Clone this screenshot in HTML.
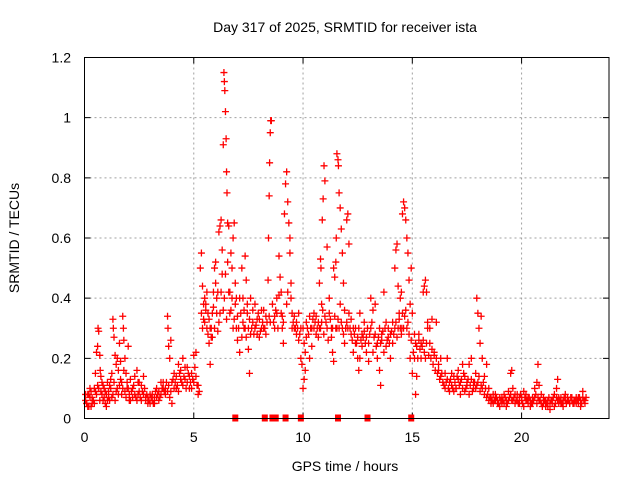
<!DOCTYPE html>
<html><head><meta charset="utf-8"><style>
html,body{margin:0;padding:0;background:#fff}
svg{display:block;font-family:"Liberation Sans",sans-serif}
</style></head><body>
<svg id="chart" width="640" height="480" viewBox="0 0 640 480" xmlns="http://www.w3.org/2000/svg">
<rect width="640" height="480" fill="#fff"/>
<g id="grid"></g>
<g id="axes"></g>
<g id="marks"></g>
<rect x="84.5" y="57.5" width="524.5" height="361" fill="none" stroke="#000" stroke-width="1"/>
<text x="345" y="32" font-size="14" text-anchor="middle">Day 317 of 2025, SRMTID for receiver ista</text>
<text x="345" y="471" font-size="14" text-anchor="middle">GPS time / hours</text>
<text transform="translate(19,238) rotate(-90)" font-size="14" text-anchor="middle">SRMTID / TECUs</text>
</svg>
<script>
const xTicks=[0,5,10,15,20];
const yTicks=[0,0.2,0.4,0.6,0.8,1,1.2];
const yTickLabels=["0","0.2","0.4","0.6","0.8","1","1.2"];
const seriesA=[[0.05,.06],[0.1,.05],[0.15,.08],[0.2,.04],[0.25,.07],[0.3,.09],[0.35,.05],[0.4,.06],[0.45,.1],[0.5,.15],[0.55,.22],[0.6,.24],[0.62,.3],[0.65,.29],[0.7,.21],[0.72,.16],[0.75,.14],[0.8,.08],[0.85,.06],[0.9,.1],[0.95,.05],[1.0,.08],
[1.05,.12],[1.1,.07],[1.15,.06],[1.2,.1],[1.25,.15],[1.3,.33],[1.32,.3],[1.35,.27],[1.4,.21],[1.45,.18],[1.5,.1],[1.55,.16],[1.6,.25],[1.65,.19],[1.7,.12],[1.75,.34],[1.78,.3],[1.8,.26],[1.85,.2],[1.9,.15],[1.95,.1],[2.0,.24],[2.05,.08],
[2.1,.06],[2.2,.1],[2.3,.14],[2.4,.16],[2.45,.08],[2.5,.12],[2.6,.06],[2.7,.14],[2.8,.07],[2.9,.05],[3.0,.08],[3.1,.06],[3.2,.05],[3.3,.07],
[3.4,.09],[3.5,.12],[3.6,.1],[3.7,.08],[3.8,.34],[3.82,.3],[3.85,.24],[3.9,.2],[3.95,.26],[4.0,.12],[4.1,.15],[4.2,.1],[4.3,.18],[4.4,.13],[4.5,.2],[4.6,.17],[4.7,.12],[4.8,.1],[4.9,.15],[5.0,.21],[5.1,.22],[5.2,.11],[5.25,.09],
[5.3,.5],[5.35,.55],[5.4,.44],[5.45,.38],[5.5,.4],[5.55,.36],[5.6,.3],[5.65,.28],[5.7,.25],[5.75,.18],[5.8,.3],[5.85,.27],[5.9,.42],[5.95,.5],[6.0,.52],[6.05,.35],[6.1,.42],[6.15,.62],[6.2,.64],[6.25,.66],[6.3,.56],[6.35,.91],[6.38,1.15],[6.4,1.12],[6.42,1.09],[6.45,1.02],[6.48,.93],[6.5,.82],[6.52,.75],[6.55,.65],[6.6,.64],[6.65,.42],[6.7,.55],[6.75,.5],[6.8,.6],[6.85,.65],[6.9,.45],[6.95,.3],[7.0,.26],
[7.1,.22],[7.2,.5],[7.25,.4],[7.3,.3],[7.35,.54],[7.4,.46],[7.45,.35],[7.5,.23],[7.55,.15],[7.6,.4],[7.7,.32],[7.8,.38],[7.9,.28],[8.0,.33],[8.1,.3],[8.2,.36],[8.3,.28],[8.35,.32],[8.4,.46],[8.42,.6],[8.45,.74],[8.47,.85],[8.5,.95],[8.52,.99],[8.55,.99],
[8.6,.38],[8.7,.34],[8.8,.4],[8.9,.54],[8.95,.47],[9.0,.42],[9.05,.3],[9.1,.25],[9.15,.68],[9.2,.78],[9.25,.82],[9.3,.72],[9.35,.65],[9.4,.55],[9.45,.45],[9.5,.35],[9.6,.3],[9.7,.28],[9.8,.35],[9.9,.3],[9.95,.18],[10.0,.1],[10.05,.13],[10.1,.22],[10.15,.27],
[10.3,.2],[10.4,.3],[10.5,.35],[10.6,.28],[10.7,.32],[10.75,.45],[10.8,.53],[10.82,.5],[10.85,.38],[10.88,.66],[10.92,.73],[10.96,.84],[11.0,.79],[11.1,.57],[11.2,.4],[11.3,.3],[11.35,.22],[11.4,.5],[11.45,.47],[11.5,.52],[11.52,.6],[11.55,.88],[11.6,.86],[11.62,.84],[11.65,.75],[11.7,.7],[11.75,.63],[11.8,.55],[11.85,.45],[11.9,.36],[11.95,.3],[12.0,.66],[12.05,.68],[12.1,.58],
[12.2,.33],[12.3,.3],[12.4,.25],[12.5,.2],[12.55,.16],[12.6,.35],[12.7,.28],[12.8,.32],[12.9,.22],[13.0,.19],[13.1,.4],[13.2,.36],[13.3,.38],[13.4,.2],[13.5,.16],[13.55,.11],[13.6,.28],[13.7,.42],[13.8,.24],[13.9,.3],[14.0,.28],[14.1,.25],[14.2,.5],[14.25,.56],[14.3,.58],[14.35,.44],[14.4,.35],[14.45,.4],[14.5,.42],[14.52,.3],
[14.55,.68],[14.6,.72],[14.65,.7],[14.7,.66],[14.75,.6],[14.8,.55],[14.85,.46],[14.9,.38],[14.95,.5],[15.0,.35],[15.1,.2],[15.15,.08],[15.2,.14],[15.3,.28],[15.4,.25],[15.5,.42],[15.55,.44],[15.6,.46],[15.65,.42],[15.7,.3],[15.8,.25],[15.9,.33],[16.0,.22],[16.1,.32],[16.2,.18],[16.3,.2],
[16.4,.12],[16.5,.15],[16.6,.2],[16.7,.12],[16.8,.15],[16.9,.09],[17.0,.1],[17.1,.13],[17.2,.08],[17.3,.18],[17.4,.14],[17.5,.12],[17.6,.18],[17.7,.2],[17.8,.1],[17.9,.15],[17.95,.4],[18.0,.35],[18.05,.3],[18.1,.25],[18.15,.34],[18.2,.2],[18.3,.14],[18.4,.18],[18.5,.1],
[18.6,.07],[18.7,.05],[18.8,.08],[18.9,.06],[19.0,.04],[19.1,.07],[19.2,.05],[19.3,.06],[19.4,.09],[19.5,.15],[19.55,.16],[19.6,.1],[19.7,.08],[19.8,.06],[19.9,.05],[20.0,.07],[20.1,.09],[20.2,.06],[20.3,.05],[20.4,.04],[20.5,.07],[20.6,.1],[20.7,.12],[20.75,.18],[20.8,.11],[20.9,.08],[21.0,.05],[21.1,.04],[21.2,.06],[21.3,.03],[21.4,.05],[21.5,.08],[21.6,.1],[21.65,.13],[21.7,.07],[21.8,.05],[21.9,.06],[22.0,.08],[22.1,.06],[22.2,.05],[22.3,.07],[22.4,.06],[22.5,.05],[22.6,.07],[22.7,.06],[22.8,.09],[22.9,.05]];
const seriesB=[[0.1,.05],[0.2,.08],[0.3,.04],[0.4,.06],[0.5,.09],[0.6,.11],[0.7,.06],[0.8,.12],[0.9,.07],[1.0,.04],[1.1,.09],[1.2,.13],[1.3,.08],[1.4,.06],[1.5,.2],[1.6,.11],[1.7,.08],[1.8,.16],[1.9,.07],[2.0,.1],[2.1,.13],[2.2,.07],[2.3,.08],[2.4,.06],[2.5,.09],[2.6,.11],[2.7,.08],[2.8,.06],[2.9,.07],[3.0,.05],[3.1,.08],[3.2,.07],[3.3,.1],[3.4,.06],[3.5,.08],[3.6,.12],[3.7,.1],[3.8,.09],[3.9,.07],[4.0,.05],[4.1,.1],[4.2,.14],[4.3,.09],[4.4,.16],[4.5,.11],[4.6,.13],[4.7,.17],[4.8,.14],[4.9,.1],[5.0,.12],[5.1,.14],[5.2,.08],[5.4,.3],[5.5,.32],[5.6,.42],[5.7,.33],[5.8,.27],[5.9,.37],[6.0,.45],[6.1,.29],[6.2,.35],[6.3,.48],[6.4,.4],[6.5,.33],[6.6,.42],[6.7,.36],[6.8,.3],[6.9,.38],[7.0,.34],[7.1,.4],[7.2,.27],[7.3,.36],[7.4,.27],[7.5,.3],[7.6,.28],[7.7,.36],[7.8,.3],[7.9,.33],[8.0,.27],[8.1,.36],[8.2,.3],[8.3,.34],[8.5,.32],[8.7,.3],[8.8,.35],[8.9,.41],[9.0,.35],[9.1,.32],[9.3,.42],[9.4,.6],[9.5,.3],[9.6,.34],[9.7,.32],[9.8,.26],[9.9,.2],[10.0,.3],[10.1,.16],[10.2,.3],[10.3,.34],[10.4,.24],[10.5,.3],[10.6,.34],[10.7,.27],[10.8,.3],[10.9,.36],[11.0,.34],[11.1,.3],[11.2,.35],[11.3,.27],[11.4,.19],[11.5,.3],[11.6,.33],[11.7,.38],[11.8,.3],[11.9,.25],[12.0,.32],[12.1,.35],[12.2,.28],[12.3,.22],[12.4,.3],[12.5,.27],[12.6,.2],[12.7,.24],[12.8,.29],[12.9,.27],[13.0,.25],[13.1,.3],[13.2,.22],[13.3,.28],[13.4,.25],[13.5,.3],[13.6,.26],[13.7,.22],[13.8,.32],[13.9,.27],[14.0,.2],[14.1,.32],[14.2,.3],[14.3,.27],[14.4,.33],[14.5,.28],[14.6,.3],[14.7,.36],[14.8,.32],[14.9,.2],[15.0,.15],[15.1,.28],[15.2,.24],[15.3,.26],[15.4,.2],[15.5,.26],[15.6,.2],[15.7,.32],[15.8,.3],[15.9,.23],[16.0,.21],[16.1,.2],[16.2,.16],[16.3,.14],[16.4,.12],[16.5,.1],[16.6,.13],[16.7,.09],[16.8,.11],[16.9,.14],[17.0,.1],[17.1,.16],[17.2,.12],[17.3,.1],[17.4,.09],[17.5,.11],[17.6,.08],[17.7,.13],[17.8,.12],[17.9,.1],[18.0,.12],[18.1,.09],[18.2,.1],[18.3,.08],[18.4,.07],[18.5,.06],[18.6,.05],[18.7,.08],[18.8,.06],[18.9,.05],[19.0,.07],[19.1,.05],[19.2,.08],[19.3,.04],[19.4,.06],[19.5,.08],[19.6,.06],[19.7,.05],[19.8,.08],[19.9,.07],[20.0,.06],[20.1,.04],[20.2,.08],[20.3,.07],[20.4,.06],[20.5,.05],[20.6,.07],[20.7,.05],[20.8,.06],[20.9,.05],[21.0,.07],[21.1,.06],[21.2,.04],[21.3,.05],[21.4,.06],[21.5,.04],[21.6,.07],[21.7,.05],[21.8,.07],[21.9,.04],[22.0,.06],[22.1,.07],[22.2,.05],[22.3,.06],[22.4,.05],[22.5,.07],[22.6,.05],[22.7,.04],[22.8,.07],[22.9,.06]];
const seriesC=[[0.05,.08],[0.15,.04],[0.25,.1],[0.35,.07],[0.45,.05],[0.55,.08],[0.65,.1],[0.75,.09],[0.85,.11],[0.95,.09],[1.05,.06],[1.15,.11],[1.25,.07],[1.35,.12],[1.45,.09],[1.55,.08],[1.65,.13],[1.75,.1],[1.85,.09],[1.95,.12],[2.05,.06],[2.15,.09],[2.25,.11],[2.35,.07],[2.45,.12],[2.55,.07],[2.65,.09],[2.75,.1],[2.85,.08],[2.95,.06],[3.05,.07],[3.15,.05],[3.25,.09],[3.35,.08],[3.45,.07],[3.55,.1],[3.65,.09],[3.75,.12],[3.85,.11],[3.95,.09],[4.05,.13],[4.15,.12],[4.25,.11],[4.35,.15],[4.45,.12],[4.55,.14],[4.65,.1],[4.75,.15],[4.85,.12],[4.95,.13],[5.05,.17],[5.15,.11],[5.35,.35],[5.45,.33],[5.55,.38],[5.65,.35],[5.75,.3],[5.85,.35],[5.95,.3],[6.05,.4],[6.15,.32],[6.25,.42],[6.35,.36],[6.45,.48],[6.55,.52],[6.65,.35],[6.75,.4],[6.85,.33],[6.95,.4],[7.05,.3],[7.15,.35],[7.25,.32],[7.35,.3],[7.45,.38],[7.55,.33],[7.65,.3],[7.75,.28],[7.85,.31],[7.95,.35],[8.05,.29],[8.15,.32],[8.25,.3],[8.45,.34],[8.65,.32],[8.75,.36],[8.85,.3],[9.05,.34],[9.25,.38],[9.45,.4],[9.55,.32],[9.65,.3],[9.75,.3],[9.85,.28],[10.05,.25],[10.15,.32],[10.25,.28],[10.35,.3],[10.45,.33],[10.55,.32],[10.65,.3],[10.75,.3],[10.85,.32],[10.95,.28],[11.05,.32],[11.15,.26],[11.25,.33],[11.35,.3],[11.45,.34],[11.55,.3],[11.65,.3],[11.75,.32],[11.85,.28],[11.95,.3],[12.05,.3],[12.15,.3],[12.25,.26],[12.35,.28],[12.45,.25],[12.55,.3],[12.65,.26],[12.75,.27],[12.85,.25],[12.95,.3],[13.05,.28],[13.15,.32],[13.25,.27],[13.35,.24],[13.45,.27],[13.55,.25],[13.65,.29],[13.75,.3],[13.85,.26],[13.95,.25],[14.05,.29],[14.15,.28],[14.25,.32],[14.35,.3],[14.45,.3],[14.55,.35],[14.65,.34],[14.75,.3],[14.85,.28],[14.95,.26],[15.05,.22],[15.15,.25],[15.25,.2],[15.35,.23],[15.45,.24],[15.55,.22],[15.65,.25],[15.75,.21],[15.85,.2],[15.95,.18],[16.05,.16],[16.15,.15],[16.25,.13],[16.35,.15],[16.45,.11],[16.55,.12],[16.65,.1],[16.75,.13],[16.85,.1],[16.95,.12],[17.05,.14],[17.15,.11],[17.25,.13],[17.35,.15],[17.45,.1],[17.55,.13],[17.65,.11],[17.75,.09],[17.85,.12],[17.95,.11],[18.05,.14],[18.15,.11],[18.25,.12],[18.35,.1],[18.45,.08],[18.55,.07],[18.65,.06],[18.75,.06],[18.85,.07],[18.95,.05],[19.05,.06],[19.15,.06],[19.25,.07],[19.35,.05],[19.45,.07],[19.55,.06],[19.65,.07],[19.75,.06],[19.85,.05],[19.95,.08],[20.05,.05],[20.15,.07],[20.25,.06],[20.35,.07],[20.45,.05],[20.55,.06],[20.65,.08],[20.75,.07],[20.85,.06],[20.95,.04],[21.05,.06],[21.15,.05],[21.25,.07],[21.35,.06],[21.45,.07],[21.55,.05],[21.65,.06],[21.75,.06],[21.85,.05],[21.95,.07],[22.05,.05],[22.15,.06],[22.25,.07],[22.35,.05],[22.45,.06],[22.55,.06],[22.65,.07],[22.75,.05],[22.85,.06],[22.95,.07]];
const zeroTimes=[6.9,8.25,8.6,8.75,9.2,9.9,11.6,12.95,14.95];

const NS="http://www.w3.org/2000/svg";
const X0=84.5,X1=609,Y0=418.5,Y1=57.5,XMAX=24,YMAX=1.2;
function sx(t){return X0+(X1-X0)*t/XMAX;}
function sy(v){return Y0-(Y0-Y1)*v/YMAX;}
function mk(tag,attrs){const e=document.createElementNS(NS,tag);for(const k in attrs)e.setAttribute(k,attrs[k]);return e;}
const grid=document.getElementById('grid'),axes=document.getElementById('axes'),marks=document.getElementById('marks');
xTicks.forEach((t,i)=>{
  const x=sx(t);
  if(t>0){const g=mk('line',{x1:x,x2:x,y1:Y1,y2:Y0,stroke:'#a0a0a0','stroke-dasharray':'2,3'});
  
  
  grid.appendChild(g);}
  const tk=mk('path',{d:`M${x},${Y0}v-6M${x},${Y1}v6`,stroke:'#000'});
  
  
  axes.appendChild(tk);
  const lb=mk('text',{x:x,y:442,'font-size':14,'text-anchor':'middle'});lb.textContent=String(t);
  
  
  axes.appendChild(lb);
});
yTicks.forEach((v,i)=>{
  const y=sy(v);
  if(v>0&&v<YMAX){const g=mk('line',{x1:X0,x2:X1,y1:y,y2:y,stroke:'#a0a0a0','stroke-dasharray':'2,3'});
  
  
  grid.appendChild(g);}
  const tk=mk('path',{d:`M${X0},${y}h6M${X1},${y}h-6`,stroke:'#000'});
  
  
  axes.appendChild(tk);
  const lb=mk('text',{x:71,y:y+5,'font-size':14,'text-anchor':'end'});lb.textContent=yTickLabels[i];
  
  
  axes.appendChild(lb);
});
function cross(t,v){
  const x=sx(t),y=sy(v);
  const p=mk('path',{d:`M${x-3.5},${y}h7M${x},${y-3.5}v7`,stroke:'#f00','stroke-width':1.3,fill:'none'});
  
  
  marks.appendChild(p);
}
seriesC.forEach(d=>cross(d[0],d[1]));
seriesB.forEach(d=>cross(d[0],d[1]));
seriesA.forEach(d=>cross(d[0],d[1]));
zeroTimes.forEach(t=>{
  const r=mk('rect',{x:sx(t)-3,y:Y0-4,width:6,height:7,fill:'#f00'});
  
  
  marks.appendChild(r);
});
</script>
</body></html>
